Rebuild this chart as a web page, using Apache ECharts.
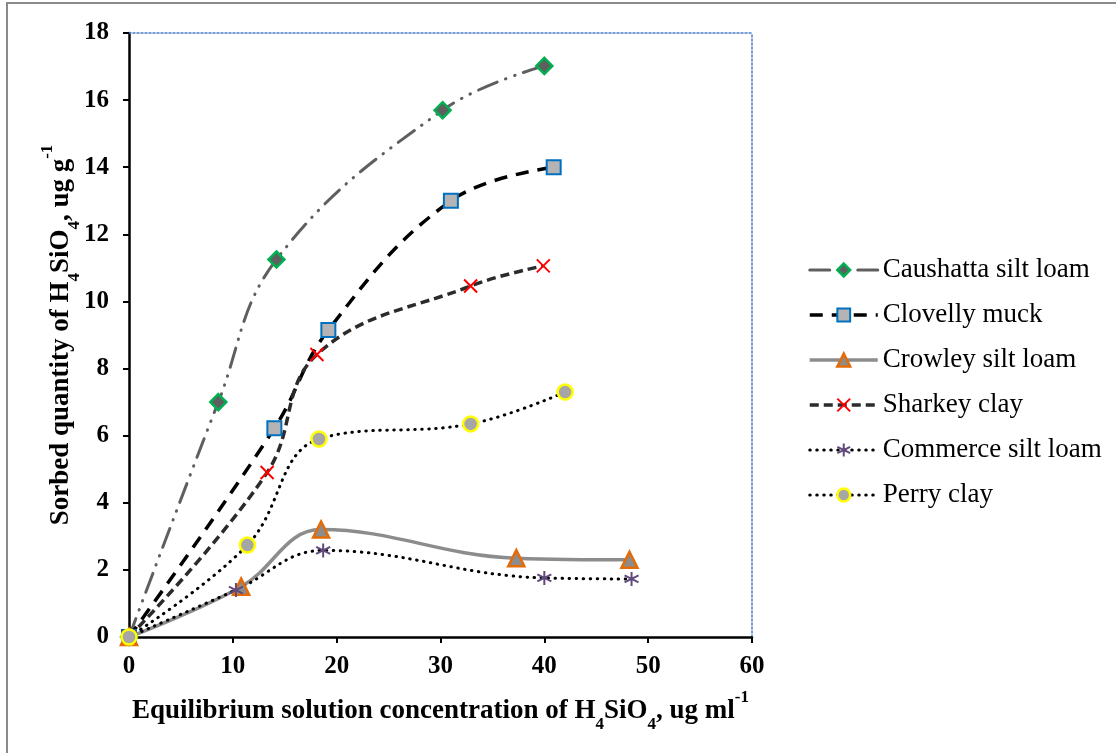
<!DOCTYPE html>
<html>
<head>
<meta charset="utf-8">
<script src="https://cdn.jsdelivr.net/npm/echarts@6/dist/echarts.min.js"></script>
<style>
  html, body { margin: 0; padding: 0; background: #fff; }
  #chart-container { width: 1116px; height: 753px; }
</style>
</head>
<body>
<div id="chart-container"></div>
<script>
  // values: [x, y]
  var caushatta = [[0, 0], [8.6, 7.0], [14.2, 11.25], [30.2, 15.7], [40.0, 17.02]];
  var clovelly = [[0, 0], [14.0, 6.22], [19.2, 9.15], [31.0, 13.0], [40.9, 14.0]];
  var crowley = [[0, 0], [10.8, 1.5], [18.5, 3.2], [37.3, 2.35], [48.2, 2.3]];
  var sharkey = [[0, 0], [13.3, 4.9], [18.1, 8.42], [32.9, 10.46], [39.9, 11.06]];
  var commerce = [[0, 0], [10.3, 1.4], [18.7, 2.58], [40.0, 1.76], [48.4, 1.73]];
  var perry = [[0, 0], [11.4, 2.74], [18.3, 5.9], [32.9, 6.35], [42.0, 7.3]];

  var seriesNames = ['Caushatta silt loam', 'Clovelly muck', 'Crowley silt loam',
    'Sharkey clay', 'Commerce silt loam', 'Perry clay'];

  var serif = '"Liberation Serif", "Times New Roman", serif';

  var dom = document.getElementById('chart-container');
  var myChart = echarts.init(dom, null, { renderer: 'canvas' });

  function line(name, data, lineStyle, symbol, symbolSize, itemStyle) {
    return {
      name: name,
      type: 'line',
      data: data,
      smooth: 0.4,
      symbol: symbol,
      symbolSize: symbolSize,
      lineStyle: lineStyle,
      itemStyle: itemStyle,
      emphasis: { disabled: true },
      animation: false,
      z: 3
    };
  }

  var richName = {
    b: { fontFamily: serif, fontWeight: 'bold', fontSize: 27, color: '#000', lineHeight: 34 },
    sub: { fontFamily: serif, fontWeight: 'bold', fontSize: 17, color: '#000', verticalAlign: 'bottom', lineHeight: 26 },
    sup: { fontFamily: serif, fontWeight: 'bold', fontSize: 17, color: '#000', verticalAlign: 'top', lineHeight: 44 }
  };

  var options = {
    backgroundColor: '#fff',
    animation: false,
    grid: { left: 129, right: 364, top: 33, bottom: 116 },
    graphic: [{
      type: 'rect',
      shape: { x: 7, y: 3, width: 1200, height: 900 },
      style: { fill: 'none', stroke: '#8a8a8a', lineWidth: 2 },
      silent: true
    }],
    legend: {
      orient: 'vertical',
      left: 803,
      top: 251,
      itemWidth: 68,
      itemHeight: 16,
      itemGap: 17,
      lineStyle: { width: 'inherit' },
      itemStyle: { borderWidth: 'inherit' },
      textStyle: { fontFamily: serif, fontSize: 27, color: '#000', lineHeight: 28 },
      data: seriesNames
    },
    xAxis: [{
      type: 'value',
      min: 0, max: 60, interval: 10,
      name: '{b|Equilibrium solution concentration of H}{sub|4}{b|SiO}{sub|4}{b|, ug ml}{sup|-1}',
      nameLocation: 'middle',
      nameGap: 52,
      nameMoveOverlap: false,
      nameTextStyle: { rich: richName },
      axisLine: { onZero: false, lineStyle: { color: '#000', width: 2.5 } },
      axisTick: { length: 6, lineStyle: { color: '#000', width: 2 } },
      axisLabel: { fontFamily: serif, fontWeight: 'bold', fontSize: 25, color: '#000', margin: 17 },
      splitLine: { show: false }
    }, {
      type: 'value',
      position: 'top',
      min: 0, max: 60,
      axisLine: { show: true, onZero: false, lineStyle: { color: '#4a7bc8', width: 1.5, type: [2, 2] } },
      axisTick: { show: false },
      axisLabel: { show: false },
      splitLine: { show: false }
    }],
    yAxis: [{
      type: 'value',
      min: 0, max: 18, interval: 2,
      name: '{b|Sorbed quantity of H}{sub|4}{b|SiO}{sub|4}{b|, ug g}{sup|-1}',
      nameLocation: 'middle',
      nameGap: 46,
      nameRotate: 90,
      nameMoveOverlap: false,
      nameTextStyle: { rich: richName },
      axisLine: { show: true, onZero: false, lineStyle: { color: '#000', width: 2.5 } },
      axisTick: { show: true, length: 6, lineStyle: { color: '#000', width: 2 } },
      axisLabel: { fontFamily: serif, fontWeight: 'bold', fontSize: 25, color: '#000', margin: 20 },
      splitLine: { show: false }
    }, {
      type: 'value',
      position: 'right',
      min: 0, max: 18,
      axisLine: { show: true, onZero: false, lineStyle: { color: '#4a7bc8', width: 1.5, type: [2, 2] } },
      axisTick: { show: false },
      axisLabel: { show: false },
      splitLine: { show: false }
    }],
    series: [
      line(seriesNames[0], caushatta,
        { color: '#5f5f5f', width: 3, type: [20, 9, 0.5, 9, 0.5, 9], cap: 'round' },
        'diamond', 16,
        { color: '#5f5f5f', borderColor: '#00b050', borderWidth: 2.5 }),
      line(seriesNames[1], clovelly,
        { color: '#000', width: 3.5, type: [13, 9] },
        'rect', 14,
        { color: '#b4b4b4', borderColor: '#0070c0', borderWidth: 2 }),
      line(seriesNames[2], crowley,
        { color: '#8c8c8c', width: 3.5 },
        'triangle', 16,
        { color: '#8c8c8c', borderColor: '#e36c09', borderWidth: 2.5 }),
      line(seriesNames[3], sharkey,
        { color: '#2b2b2b', width: 3.5, type: [9, 5] },
        'path://M0,0L10,10M10,0L0,10', 13,
        { color: '#ff0000', borderColor: '#ff0000', borderWidth: 2 }),
      line(seriesNames[4], commerce,
        { color: '#000', width: 3, type: [0.5, 6.5], cap: 'round' },
        'path://M5,0L5,10M0.7,2.5L9.3,7.5M0.7,7.5L9.3,2.5', 14,
        { color: '#604a7b', borderColor: '#604a7b', borderWidth: 2 }),
      line(seriesNames[5], perry,
        { color: '#000', width: 3, type: [0.5, 6.5], cap: 'round' },
        'circle', 15,
        { color: '#a6a6a6', borderColor: '#ffff00', borderWidth: 2.5 })
    ]
  };

  myChart.setOption(options);
</script>
</body>
</html>
